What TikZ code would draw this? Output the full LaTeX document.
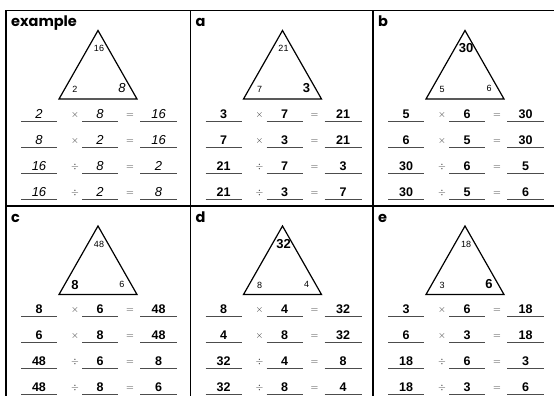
\documentclass[tikz,border=0pt]{standalone}
\usepackage{fontspec}
\setmainfont{Liberation Sans}
\newfontfamily\titlefont{Poppins}
\newcommand{\tsmall}{\fontsize{9}{9}\selectfont}
\newcommand{\tbig}{\fontsize{13}{13}\selectfont\bfseries}
\newcommand{\thand}{\fontsize{13}{13}\selectfont\itshape}
\newcommand{\tans}{\fontsize{12.5}{13}\selectfont\bfseries}
\begin{document}
\begin{tikzpicture}[x=1pt,y=-1pt,
  frame/.style={line width=1.3pt},
  tri/.style={line width=1.2pt, line join=miter},
  blank/.style={draw=black!70, line width=0.7pt},
  ans/.style={anchor=base, inner sep=0pt},
  opsym/.style={anchor=base, inner sep=0pt, text=black!80, font=\fontsize{10}{10}\selectfont}]
\useasboundingbox (0,0) rectangle (554,396);
% grid of the sheet
\draw[frame] (6,10.5) -- (554,10.5);
\draw[frame] (6,206) -- (554,206);
\foreach \x in {6,190.5,373}
  \draw[frame] (\x,10.5) -- (\x,396);
% one panel per fact family
\foreach \px/\py/\ttl/\T/\L/\R/\P/\Q/\ft/\fl/\fr/\fa in {
    6/10.5/example/16/2/8/2/8/\tsmall/\tsmall/\thand/\thand,
    190.5/10.5/a/21/7/3/3/7/\tsmall/\tsmall/\tbig/\tans,
    373/10.5/b/30/5/6/5/6/\tbig/\tsmall/\tsmall/\tans,
    6/206/c/48/8/6/8/6/\tsmall/\tbig/\tsmall/\tans,
    190.5/206/d/32/8/4/8/4/\tbig/\tsmall/\tsmall/\tans,
    373/206/e/18/3/6/3/6/\tsmall/\tsmall/\tbig/\tans}
{
  \begin{scope}[shift={(\px,\py)}]
    \node[anchor=base west, inner sep=0pt, font=\titlefont\bfseries\fontsize{14.5}{15}\selectfont] (title) at (5,16.5) {\ttl};
    \coordinate (apex) at (92,20);
    \coordinate (bl) at (53,88.5);
    \coordinate (br) at (131,88.5);
    \draw[tri] (apex) -- (br) -- (bl) -- cycle;
    \node[font=\ft] (top) at (93,38) {\T};
    \node[font=\fl] (left) at (69,79) {\L};
    \node[font=\fr] (right) at (116,78) {\R};
    \foreach \a/\op/\b/\c [count=\i, evaluate=\i as \y using 84.5+26*\i] in
        {\P/\times/\Q/\T, \Q/\times/\P/\T, \T/\div/\Q/\P, \T/\div/\P/\Q}
    {
      \draw[blank] (15,\y) -- (51,\y);
      \draw[blank] (76,\y) -- (112,\y);
      \draw[blank] (134,\y) -- (171,\y);
      \node[ans, font=\fa] (a\i) at (33,\y-3) {\a};
      \node[ans, font=\fa] (b\i) at (94,\y-3) {\b};
      \node[ans, font=\fa] (c\i) at (152.5,\y-3) {\c};
      \node[opsym] (op\i) at (69,\y-4) {$\op$};
      \node[opsym] (eq\i) at (124,\y-4) {$=$};
    }
  \end{scope}
}
\end{tikzpicture}
\end{document}
